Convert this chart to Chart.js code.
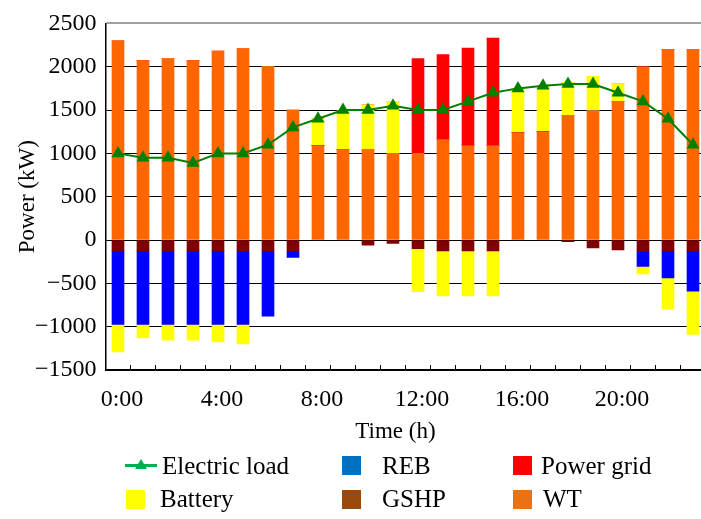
<!DOCTYPE html>
<html><head><meta charset="utf-8">
<script src="https://cdn.jsdelivr.net/npm/chart.js@4/dist/chart.umd.min.js"></script>
<style>
html,body{margin:0;padding:0;background:#fff;overflow:hidden;width:701px;height:519px;}
#wrap{position:relative;width:701px;height:519px;overflow:hidden;}
canvas{position:absolute;left:0;top:0;}
.lg{position:absolute;font-family:'Liberation Serif','Times New Roman',serif;font-size:25px;color:#000;line-height:25px;white-space:nowrap;}
.sw{position:absolute;}
</style></head><body>
<div id="wrap"><canvas id="c" width="720" height="519" style="width:720px;height:519px"></canvas><div id="legend"></div></div>
<script>
// ---- data ----
const categories = ["0:00","1:00","2:00","3:00","4:00","5:00","6:00","7:00","8:00","9:00","10:00","11:00",
  "12:00","13:00","14:00","15:00","16:00","17:00","18:00","19:00","20:00","21:00","22:00","23:00"];
const xTickLabels = ["0:00","4:00","8:00","12:00","16:00","20:00"];
const yTicks = [-1500,-1000,-500,0,500,1000,1500,2000,2500];
const seriesNames = ["Electric load","REB","Power grid","Battery","GSHP","WT"];
const electricLoad = [1000,950,950,890,1000,1000,1100,1300,1400,1500,1500,1550,1500,1500,1600,1700,1750,1780,1800,1800,1700,1600,1400,1100];
const wt        = [2300,2070,2095,2070,2180,2210,2000,1500,1090,1045,1045,1000,1000,1160,1090,1090,1240,1250,1440,1490,1600,2000,2200,2200];
const gshp      = [-125,-125,-125,-125,-125,-130,-130,-130,0,0,-60,-40,-100,-125,-125,-125,0,0,-20,-90,-115,-135,-125,-125];
const reb       = [-850,-850,-850,-850,-850,-845,-750,-70,0,0,0,0,0,0,0,0,0,0,0,0,0,-170,-313,-465];
const battery   = [-315,-155,-180,-180,-200,-225,0,0,310,445,515,600,-495,-520,-520,-520,510,520,380,400,200,-85,-360,-500];
const powerGrid = [0,0,0,0,0,0,0,0,0,0,0,0,1095,980,1125,1240,0,0,0,0,0,0,0,0];
const xTitle = 'Time (h)';
const yTitle = 'Power (kW)';

// ---- styles ----
const FONT = "'Liberation Serif','Times New Roman',serif";
const barColors = {WT:'#FF6600', GSHP:'#800000', REB:'#0000FF', Battery:'#FFFF00', 'Power grid':'#FF0000'};
const lineColor = '#008000';
const legendColors = {'Electric load':'#00B050', REB:'#0070C0', 'Power grid':'#FF0000', Battery:'#FFFF00', GSHP:'#9A4A0C', WT:'#EA7214'};

const barDs = (label, data) => ({type:'bar', label, data, backgroundColor:barColors[label], borderWidth:0,
  barThickness:12, stack:'s', order:1});

// x-axis title drawn slightly left of the (clipped) plot centre, as in the reference
const xTitlePlugin = {
  id:'xTitle',
  afterDraw(chart){
    const {ctx, chartArea} = chart;
    ctx.save();
    ctx.font = `23px ${FONT}`;
    ctx.fillStyle = '#000';
    ctx.textAlign = 'center';
    ctx.textBaseline = 'middle';
    ctx.fillText(xTitle, (chartArea.left + chartArea.right)/2 - 10, chartArea.bottom + 62);
    ctx.restore();
  }
};

new Chart(document.getElementById('c'), {
  type:'bar',
  data:{
    labels:categories,
    datasets:[
      {type:'line', label:seriesNames[0], data:electricLoad, borderColor:lineColor, backgroundColor:lineColor,
       borderWidth:2, pointStyle:'triangle', pointRadius:7.5, pointHoverRadius:7.5, pointBackgroundColor:lineColor,
       pointBorderWidth:0, tension:0, stack:'load', order:0},
      barDs('WT', wt),
      barDs('GSHP', gshp),
      barDs('REB', reb),
      barDs('Battery', battery),
      barDs('Power grid', powerGrid)
    ]
  },
  plugins:[xTitlePlugin],
  options:{
    responsive:false, animation:false, devicePixelRatio:1,
    layout:{padding:{left:0, top:18, right:14.5, bottom:73}},
    plugins:{legend:{display:false}, tooltip:{enabled:false}},
    scales:{
      x:{
        stacked:true, offset:true,
        grid:{drawOnChartArea:false, drawTicks:true, tickLength:-5, color:'#000', lineWidth:1, offset:true},
        border:{display:true, color:'#000', width:1.5},
        ticks:{autoSkip:false, maxRotation:0, minRotation:0, padding:20.6, labelOffset:4, color:'#000',
          font:{family:FONT, size:24},
          callback:function(v, i){ const l = this.getLabelForValue(v); return xTickLabels.includes(l) ? l : ''; }},
        title:{display:false},
        afterFit:s=>{ s.height = 76; }
      },
      y:{
        stacked:true, min:yTicks[0], max:yTicks[yTicks.length-1],
        ticks:{stepSize:500, padding:9, color:'#000', font:{family:FONT, size:24},
          callback:v=> v<0 ? '\u2212' + Math.abs(v) : String(v)},
        grid:{drawTicks:false, color:c=> (c.tick && c.tick.value===yTicks[yTicks.length-1]) ? '#a0a0a0' : '#000',
          lineWidth:c=> (c.tick && c.tick.value===yTicks[yTicks.length-1]) ? 2 : 1},
        border:{display:true, color:'#000', width:1.5},
        title:{display:true, text:yTitle, color:'#000', font:{family:FONT, size:23}, padding:{top:14,bottom:0}},
        afterFit:s=>{ s.width = 105.5; }
      }
    }
  }
});

// ---- HTML legend (2 rows x 3 columns) ----
const legendLayout = [
  {x:125, tx:162, row:0, kind:'line'},
  {x:342, tx:382, row:0, kind:'box'},
  {x:513, tx:541, row:0, kind:'box'},
  {x:126, tx:160, row:1, kind:'box'},
  {x:342, tx:382, row:1, kind:'box'},
  {x:513, tx:543, row:1, kind:'box'}
];
const rowCenters = [465.5, 499];
const lg = document.getElementById('legend');
seriesNames.forEach((name, i) => {
  const L = legendLayout[i], cy = rowCenters[L.row], col = legendColors[name];
  if (L.kind === 'line') {
    const ln = document.createElement('div'); ln.className='sw';
    ln.style.cssText = `left:${L.x}px;top:${cy-1.5}px;width:32px;height:3px;background:${col};`;
    lg.appendChild(ln);
    const tri = document.createElement('div'); tri.className='sw';
    tri.style.cssText = `left:${L.x+10}px;top:${cy-7}px;width:0;height:0;border-left:6px solid transparent;border-right:6px solid transparent;border-bottom:10px solid ${col};`;
    lg.appendChild(tri);
  } else {
    const b = document.createElement('div'); b.className='sw';
    b.style.cssText = `left:${L.x}px;top:${cy-9.5}px;width:19px;height:19px;background:${col};`;
    lg.appendChild(b);
  }
  const t = document.createElement('div'); t.className='lg';
  t.textContent = name;
  t.style.left = L.tx + 'px'; t.style.top = (cy - 12.6) + 'px';
  lg.appendChild(t);
});
</script>
</body></html>
